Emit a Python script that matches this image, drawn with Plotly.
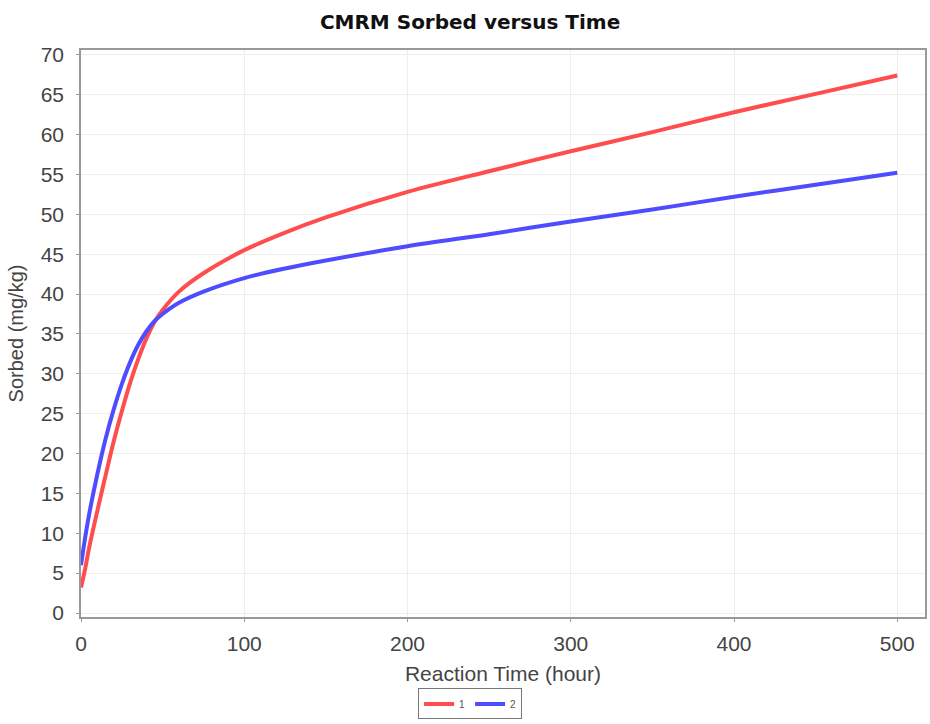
import plotly.graph_objects as go

# Reaction time (hour)
time_red = [0, 2.5, 5, 10, 15, 20, 25, 30, 35, 40, 45, 50, 60, 75, 100, 125, 150, 200, 250, 300, 350, 400, 450, 500]
sorbed_red = [3.2, 5.5, 8.2, 12.8, 17.2, 21.5, 25.3, 28.8, 31.8, 34.4, 36.5, 38.0, 40.3, 42.6, 45.5, 47.7, 49.6, 52.8, 55.4, 57.9, 60.3, 62.8, 65.1, 67.4]

time_blue = [0, 2.5, 5, 10, 15, 20, 25, 30, 35, 40, 45, 50, 60, 75, 100, 125, 150, 200, 250, 300, 350, 400, 450, 500]
sorbed_blue = [6.0, 9.4, 12.4, 17.4, 21.8, 25.5, 28.7, 31.4, 33.6, 35.3, 36.6, 37.5, 38.9, 40.3, 42.0, 43.2, 44.2, 46.0, 47.5, 49.1, 50.6, 52.2, 53.7, 55.2]

series_names = ["1", "2"]
x_ticks = [0, 100, 200, 300, 400, 500]
y_ticks = list(range(0, 75, 5))

fig = go.Figure()
fig.add_trace(go.Scatter(x=time_red, y=sorbed_red, mode="lines", name=series_names[0],
                         line=dict(color="#ff4d4d", width=4, shape="spline", smoothing=0.9)))
fig.add_trace(go.Scatter(x=time_blue, y=sorbed_blue, mode="lines", name=series_names[1],
                         line=dict(color="#4d4dff", width=4, shape="spline", smoothing=0.9)))

fig.update_layout(
    width=930, height=724,
    paper_bgcolor="white", plot_bgcolor="white",
    margin=dict(l=81, r=5, t=50, b=107, autoexpand=False),
    title=dict(text="<b>CMRM Sorbed versus Time</b>", x=0.461, xref="paper", xanchor="center",
               y=0.969, yanchor="middle",
               font=dict(family="DejaVu Sans", size=20, color="#111111")),
    font=dict(family="Liberation Sans, Arial", color="#444444"),
    showlegend=True,
    legend=dict(orientation="h", x=0.461, xanchor="center", y=-0.126, yanchor="top",
                bordercolor="#777777", borderwidth=1, font=dict(size=10, color="#555555"),
                itemwidth=30, tracegroupgap=0),
)
fig.update_xaxes(
    range=[0, 517], tickvals=x_ticks, ticks="outside", ticklen=3, tickcolor="#999999",
    tickfont=dict(size=21, color="#444444"), ticklabelstandoff=4,
    title=dict(text="Reaction Time (hour)", font=dict(size=21, color="#444444"), standoff=12),
    showgrid=True, gridcolor="#eeeeee", gridwidth=1,
    showline=True, linecolor="#999999", linewidth=1.5, mirror=True, zeroline=False,
)
fig.update_yaxes(
    range=[-0.5, 70.6], tickvals=y_ticks, ticks="outside", ticklen=3, tickcolor="#999999",
    tickfont=dict(size=21, color="#444444"), ticklabelstandoff=8,
    title=dict(text="Sorbed (mg/kg)", font=dict(size=20, color="#444444"), standoff=12),
    showgrid=True, gridcolor="#eeeeee", gridwidth=1,
    showline=True, linecolor="#999999", linewidth=1.5, mirror=True, zeroline=False,
)

fig.write_html("out.html")
